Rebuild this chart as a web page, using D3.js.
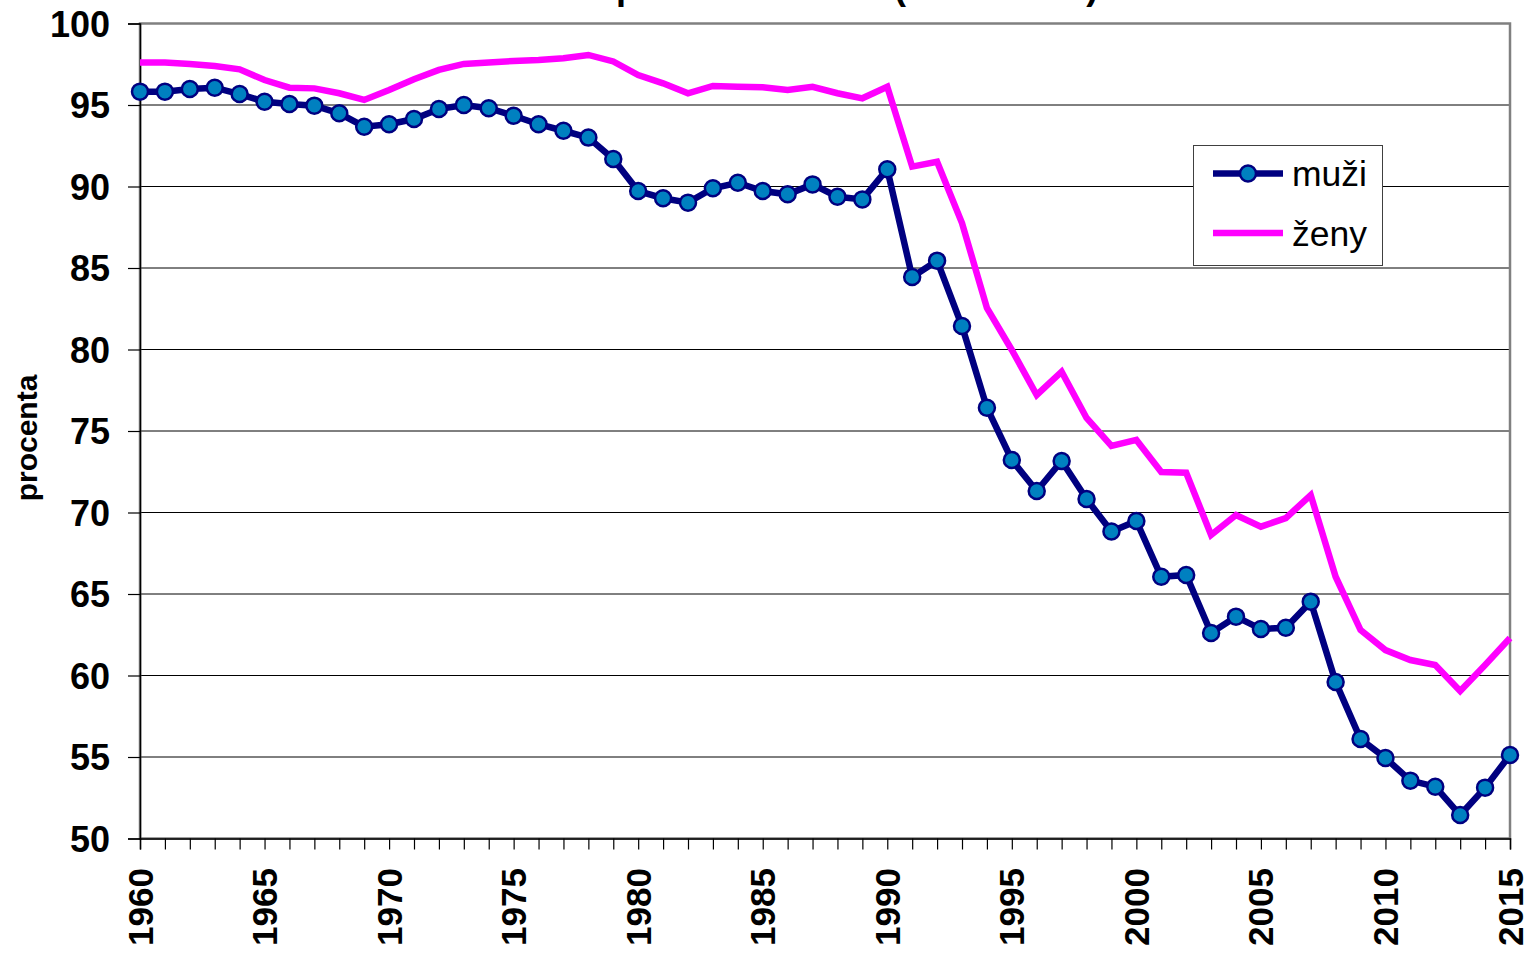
<!DOCTYPE html>
<html>
<head>
<meta charset="utf-8">
<script src="https://cdn.jsdelivr.net/npm/d3@7"></script>
<style>
  html, body { margin: 0; padding: 0; background: #fff; overflow: hidden; }
  svg { display: block; font-family: "Liberation Sans", Arial, sans-serif; }
</style>
</head>
<body>
<svg id="chart" width="1525" height="953"></svg>
<script>
const titleText = "Úhrnná prvosňatečnost (1960–2015)";
const yAxisTitle = "procenta";
const years = d3.range(1960, 2016);
const seriesNames = ["muži", "ženy"];
const muzi = [
  95.82, 95.82, 95.98, 96.06, 95.67, 95.20, 95.06, 94.96, 94.49, 93.67,
  93.82, 94.14, 94.75, 95.00, 94.80, 94.34, 93.82, 93.42, 93.00, 91.69,
  89.72, 89.28, 89.01, 89.89, 90.23, 89.72, 89.52, 90.13, 89.37, 89.21,
  91.06, 84.45, 85.45, 81.44, 76.43, 73.22, 71.32, 73.16, 70.83, 68.83,
  69.48, 66.06, 66.17, 62.61, 63.61, 62.85, 62.93, 64.53, 59.60, 56.10,
  54.94, 53.55, 53.18, 51.44, 53.12, 55.12
];
const zeny = [
  97.60, 97.60, 97.52, 97.39, 97.19, 96.53, 96.06, 96.02, 95.72, 95.31,
  95.92, 96.58, 97.15, 97.52, 97.60, 97.70, 97.76, 97.87, 98.07, 97.67,
  96.84, 96.33, 95.72, 96.17, 96.12, 96.09, 95.92, 96.12, 95.72, 95.41,
  96.12, 91.22, 91.52, 87.76, 82.55, 79.97, 77.21, 78.64, 75.80, 74.08,
  74.45, 72.48, 72.44, 68.62, 69.85, 69.13, 69.66, 71.07, 66.06, 62.79,
  61.56, 60.95, 60.64, 59.05, 60.64, 62.30
];
const yTicks = [50, 55, 60, 65, 70, 75, 80, 85, 90, 95, 100];
const xLabelYears = [1960, 1965, 1970, 1975, 1980, 1985, 1990, 1995, 2000, 2005, 2010, 2015];

const svg = d3.select("#chart");
const mLeft = 140, mRight = 1510, mTop = 23.5, mBottom = 838.5;

const x = d3.scaleLinear().domain([1960, 2015]).range([mLeft, mRight]);
const y = d3.scaleLinear().domain([50, 100]).range([mBottom, mTop]);

// title (mostly cut off at top, only descenders visible)
svg.append("text")
  .attr("x", 480).attr("y", -1)
  .attr("font-size", 36).attr("font-weight", "bold")
  .attr("fill", "#000")
  .text(titleText);

// gridlines
svg.append("g").selectAll("line")
  .data(yTicks.filter(d => d > 50 && d < 100))
  .join("line")
  .attr("x1", mLeft).attr("x2", mRight)
  .attr("y1", d => y(d)).attr("y2", d => y(d))
  .attr("stroke", "#000").attr("stroke-width", 1);

// plot area border (gray)
svg.append("rect")
  .attr("x", mLeft).attr("y", mTop)
  .attr("width", mRight - mLeft).attr("height", mBottom - mTop)
  .attr("fill", "none").attr("stroke", "#808080").attr("stroke-width", 2.5);

// y axis
const yAxis = d3.axisLeft(y).tickValues(yTicks).tickSize(12).tickPadding(18).tickFormat(d3.format("d"));
const gy = svg.append("g").attr("transform", `translate(${mLeft},0)`).call(yAxis);
gy.select(".domain").attr("stroke", "#000").attr("stroke-width", 1.5);
gy.selectAll(".tick line").attr("stroke", "#000").attr("stroke-width", 1.2);
gy.selectAll("text")
  .attr("font-size", 36).attr("font-weight", "bold")
  .attr("font-family", "'Liberation Sans', Arial, sans-serif")
  .attr("fill", "#000").attr("dy", "0.36em");

// x axis
const xAxis = d3.axisBottom(x).tickValues(years).tickSize(11).tickFormat("");
const gx = svg.append("g").attr("transform", `translate(0,${mBottom})`).call(xAxis);
gx.select(".domain").attr("stroke", "#000").attr("stroke-width", 1.5);
gx.selectAll(".tick line").attr("stroke", "#000").attr("stroke-width", 1.2);

svg.append("g").selectAll("text")
  .data(xLabelYears)
  .join("text")
  .attr("transform", d => `translate(${x(d) + 12.5},868) rotate(-90)`)
  .attr("text-anchor", "end")
  .attr("font-size", 35).attr("font-weight", "bold")
  .attr("fill", "#000")
  .text(d => d);

// y axis title
svg.append("text")
  .attr("transform", "translate(37,438) rotate(-90)")
  .attr("text-anchor", "middle")
  .attr("font-size", 30).attr("font-weight", "bold")
  .attr("fill", "#000")
  .text(yAxisTitle);

// lines
const line = d3.line().x((d, i) => x(years[i])).y(d => y(d));

svg.append("path")
  .datum(zeny)
  .attr("d", line)
  .attr("fill", "none").attr("stroke", "#FF00FF").attr("stroke-width", 6.5)
  .attr("stroke-linejoin", "miter");

svg.append("path")
  .datum(muzi)
  .attr("d", line)
  .attr("fill", "none").attr("stroke", "#000080").attr("stroke-width", 6.5)
  .attr("stroke-linejoin", "miter");

svg.append("g").selectAll("circle")
  .data(muzi)
  .join("circle")
  .attr("cx", (d, i) => x(years[i]))
  .attr("cy", d => y(d))
  .attr("r", 8)
  .attr("fill", "#0080C0").attr("stroke", "#000080").attr("stroke-width", 2.5);

// legend
const lg = svg.append("g");
lg.append("rect")
  .attr("x", 1193.5).attr("y", 145.5).attr("width", 189).attr("height", 120)
  .attr("fill", "#fff").attr("stroke", "#404040").attr("stroke-width", 1);
const legendItems = [
  { name: seriesNames[0], color: "#000080", marker: true, y: 173.5 },
  { name: seriesNames[1], color: "#FF00FF", marker: false, y: 233 }
];
legendItems.forEach(it => {
  lg.append("line")
    .attr("x1", 1213).attr("x2", 1283)
    .attr("y1", it.y).attr("y2", it.y)
    .attr("stroke", it.color).attr("stroke-width", 6.5);
  if (it.marker) {
    lg.append("circle").attr("cx", 1248).attr("cy", it.y).attr("r", 8)
      .attr("fill", "#0080C0").attr("stroke", "#000080").attr("stroke-width", 2.5);
  }
  lg.append("text")
    .attr("x", 1292).attr("y", it.y + 12.5)
    .attr("font-size", 35.5).attr("fill", "#000")
    .text(it.name);
});
</script>
</body>
</html>
